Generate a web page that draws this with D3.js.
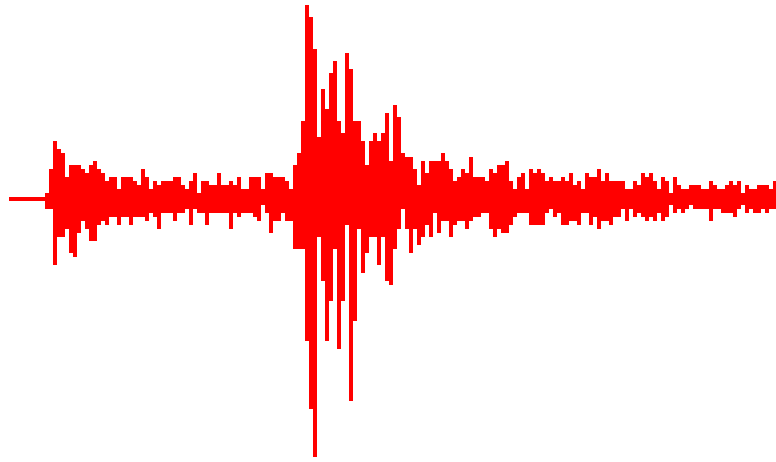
<!DOCTYPE html>
<html>
<head>
<meta charset="utf-8">
<script src="https://cdn.jsdelivr.net/npm/d3@7"></script>
<style>
  html, body { margin: 0; padding: 0; background: #fff; }
  svg { display: block; }
</style>
</head>
<body>
<svg id="chart" width="776" height="462"></svg>
<script>
// Per-bin envelope of the trace: upper (peak) and lower (trough) amplitude.
const peaks = [
  1, 1, 1, 1, 1, 1, 1, 1, 1, 2, 8, 15, 13, 12, 6, 9, 9, 9, 8, 7,
  9, 10, 8, 7, 5, 6, 6, 3, 6, 6, 6, 5, 4, 8, 6, 3, 5, 4, 5, 5,
  5, 6, 6, 4, 3, 5, 7, 2, 5, 5, 4, 4, 7, 4, 4, 5, 4, 6, 3, 3,
  6, 6, 6, 3, 7, 7, 6, 6, 6, 5, 3, 9, 12, 20, 49, 46, 38, 16, 28, 23,
  32, 35, 20, 17, 37, 33, 20, 20, 15, 9, 15, 17, 15, 17, 22, 10, 24, 21, 12, 11,
  11, 8, 4, 10, 7, 10, 10, 10, 12, 10, 8, 5, 6, 8, 7, 11, 6, 6, 6, 5,
  8, 7, 9, 9, 10, 5, 3, 6, 7, 3, 8, 7, 8, 7, 5, 6, 5, 5, 6, 5,
  7, 4, 5, 3, 7, 6, 6, 8, 5, 7, 5, 5, 5, 5, 3, 3, 5, 4, 7, 6,
  7, 5, 3, 6, 5, 2, 6, 4, 3, 3, 4, 4, 4, 3, 3, 5, 4, 3, 3, 4,
  5, 4, 5, 2, 4, 3, 3, 4, 4, 4, 3, 5
];
const troughs = [
  0, 0, 0, 0, 0, 0, 0, 0, 0, -2, -2, -16, -9, -9, -7, -13, -14, -8, -5, -7,
  -10, -10, -6, -5, -6, -4, -4, -6, -4, -4, -6, -4, -4, -4, -5, -3, -4, -7, -3, -3,
  -3, -5, -3, -3, -2, -6, -2, -3, -3, -6, -3, -3, -3, -3, -3, -7, -3, -4, -3, -3,
  -3, -4, -5, -1, -3, -8, -5, -5, -3, -5, -5, -12, -12, -12, -35, -52, -64, -9, -20, -35,
  -25, -12, -37, -25, -6, -50, -30, -7, -18, -13, -9, -9, -16, -9, -20, -21, -12, -7, -2, -7,
  -13, -7, -11, -9, -6, -9, -3, -8, -5, -5, -9, -6, -5, -5, -7, -5, -4, -4, -3, -3,
  -7, -9, -7, -8, -8, -6, -4, -3, -3, -3, -6, -6, -6, -6, -3, -2, -4, -3, -6, -6,
  -5, -5, -6, -3, -3, -6, -4, -7, -5, -5, -6, -4, -4, -2, -5, -2, -4, -3, -4, -5,
  -4, -5, -3, -5, -4, -1, -3, -2, -3, -2, -1, -2, -2, -2, -2, -5, -2, -2, -3, -3,
  -3, -4, -2, -1, -3, -2, -3, -3, -2, -3, -2, -2
];

const svg = d3.select("#chart");
const n = peaks.length;

const x = d3.scaleLinear().domain([0, n]).range([9, 777]);
const y = d3.scaleLinear().domain([-65, 50]).range([461, 1]);

const bins = d3.range(n).map(i => ({ i, hi: peaks[i], lo: troughs[i] }));

svg.append("g")
  .attr("fill", "#ff0000")
  .attr("shape-rendering", "crispEdges")
  .selectAll("rect")
  .data(bins)
  .join("rect")
    .attr("x", d => x(d.i))
    .attr("width", d => x(d.i + 1) - x(d.i))
    .attr("y", d => y(d.hi))
    .attr("height", d => y(d.lo) - y(d.hi));
</script>
</body>
</html>
